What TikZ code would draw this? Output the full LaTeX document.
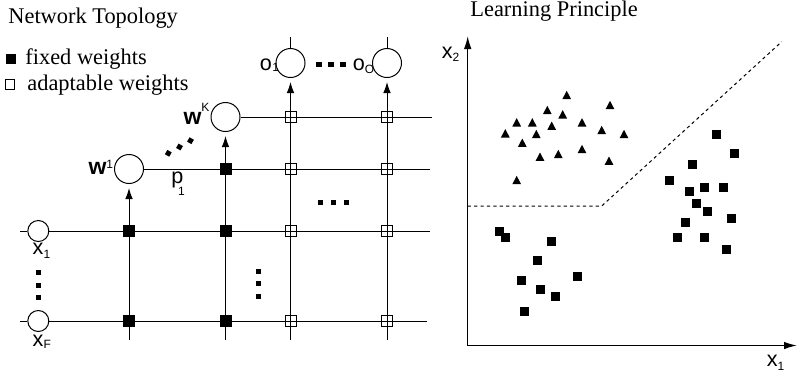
\documentclass[tikz,border=0pt]{standalone}
\usepackage{fontspec}
\setmainfont{Liberation Serif}
\setsansfont{Liberation Sans}
\usetikzlibrary{arrows.meta}
\newcommand\myscript[2]{\raisebox{#1}{\fontsize{6}{7}\mdseries\selectfont #2}}
\begin{document}
\begin{tikzpicture}[x=0.5pt,y=-0.5pt,
  wire/.style={line width=0.5pt},
  arr/.style={wire,-{Latex[length=5.5pt,width=3.8pt]},shorten >=2pt},
  axis/.style={line width=0.75pt,-{Latex[length=6.5pt,width=3.8pt]}},
  sep/.style={line width=0.5pt,dash pattern=on 1.6pt off 1.6pt},
  neuron/.style={circle,draw,line width=0.5pt,minimum size=14.5pt,inner sep=0pt},
  innode/.style={circle,draw,line width=0.5pt,minimum size=10.5pt,inner sep=0pt},
  fixw/.style={rectangle,fill=black,minimum size=6pt,inner sep=0pt},
  adaw/.style={rectangle,draw,line width=0.5pt,minimum size=5.5pt,inner sep=0pt},
  lbl/.style={font=\sffamily\fontsize{10.8}{12}\selectfont,inner sep=0pt},
  wlbl/.style={font=\sffamily\bfseries\fontsize{11.5}{13}\selectfont,inner sep=0pt},
  ttl/.style={font=\fontsize{11.2}{13}\selectfont,inner sep=0pt},
  dotm/.style={rectangle,fill=black,minimum size=2.5pt,inner sep=0pt},
]
\useasboundingbox (0,0) rectangle (797,371);

% titles and legend
\node[ttl,anchor=base west] (tnet) at (8,23) {Network Topology};
\node[ttl,anchor=base west] (tlearn) at (470,16) {Learning Principle};
\node[rectangle,fill=black,minimum size=5pt,inner sep=0pt] (legF) at (11,59) {};
\node[ttl,anchor=base west] (legFt) at (25,64.5) {fixed weights};
\node[rectangle,draw,line width=0.4pt,minimum size=4.8pt,inner sep=0pt] (legA) at (10,84.5) {};
\node[ttl,anchor=base west] (legAt) at (27,90.5) {adaptable weights};

% neurons
\node[innode] (x1) at (38.3,231) {};
\node[innode] (xF) at (38.3,321) {};
\node[neuron] (w1) at (129,169) {};
\node[neuron] (wK) at (225.5,117) {};
\node[neuron] (o1) at (290.5,63) {};
\node[neuron] (oO) at (387,63) {};

% stubs
\coordinate (sx1) at (20,231);
\coordinate (sxF) at (20,321);
\coordinate (t1) at (290.5,37);
\coordinate (t4) at (387,37);
\draw[wire] (sx1) -- (x1);
\draw[wire] (sxF) -- (xF);
\draw[wire] (t1) -- (o1);
\draw[wire] (t4) -- (oO);

% rows
\coordinate (eA) at (432,117);
\coordinate (eB) at (430,169);
\coordinate (eC) at (430,231);
\coordinate (eD) at (427,321);
\draw[wire] (wK) -- (eA);
\draw[wire] (w1) -- (eB);
\draw[wire] (x1) -- (eC);
\draw[wire] (xF) -- (eD);

% columns
\coordinate (b1) at (129,340);
\coordinate (b2) at (225.5,340);
\coordinate (b3) at (290.5,340);
\coordinate (b4) at (387,340);
\draw[arr] (b1) -- (w1);
\draw[arr] (b2) -- (wK);
\draw[arr] (b3) -- (o1);
\draw[arr] (b4) -- (oO);

% weights
\foreach \n/\x/\y in {f1/129/231, f2/129/321, f3/225.5/169, f4/225.5/231, f5/225.5/321}
  \node[fixw] (\n) at (\x,\y) {};
\foreach \y [count=\i] in {117,169,231,321}{
  \node[adaw] (a3\i) at (290.5,\y) {};
  \node[adaw] (a4\i) at (387,\y) {};
}

% dots
\foreach \x/\y [count=\i] in {168.3/153.3, 179.5/147, 190.5/140.7}
  \node[dotm,rotate=-30] (dd\i) at (\x,\y) {};
\foreach \x [count=\i] in {318.5,330.5,342.5}
  \node[dotm,minimum width=3pt,minimum height=2.5pt] (do\i) at (\x,64) {};
\foreach \x [count=\i] in {320,333,346}
  \node[dotm] (dh\i) at (\x,202) {};
\foreach \y [count=\i] in {271,283.5,296}
  \node[dotm] (dv\i) at (258,\y) {};
\foreach \y [count=\i] in {272,285,297.5}
  \node[dotm] (di\i) at (38.8,\y) {};

% labels
\node[wlbl,anchor=base east] (lw1) at (113.5,174) {w\myscript{2.8pt}{1}};
\node[wlbl,anchor=base east] (lwK) at (209.8,124.8) {w\myscript{6.5pt}{K}};
\node[lbl,anchor=base west] (lp1) at (171,183) {p\kern-2.7pt\myscript{-6pt}{1}};
\node[lbl,anchor=base west] (lo1) at (259.5,70.7) {o\kern0.2pt\myscript{-0.2pt}{1}};
\node[lbl,anchor=base west] (loO) at (352.5,70.7) {o\myscript{-1.3pt}{O}};
\node[lbl,anchor=base west] (lx1) at (32.3,254) {x\myscript{-2pt}{1}};
\node[lbl,anchor=base west] (lxF) at (32.3,346) {x\myscript{-1pt}{F}};

% right panel
\coordinate (org) at (467.7,345.5);
\coordinate (ytip) at (467.7,36);
\coordinate (xtip) at (797,345.5);
\draw[axis] (org) -- (ytip);
\draw[axis] (org) -- (xtip);
\node[lbl,anchor=base west] (lax2) at (441.5,58.3) {x\myscript{-1.8pt}{2}};
\node[lbl,anchor=base west] (lax1) at (766.5,366.7) {x\myscript{-2pt}{1}};

\coordinate (dA) at (467.7,206);
\coordinate (dB) at (601.7,206);
\coordinate (dC) at (781.7,41.7);
\draw[sep] (dA) -- (dB) -- (dC);

% class 1: triangles
\foreach \x/\y in {566.7/95, 610/105, 547.3/110, 562.7/114.3, 516.7/122.3, 532.3/122.3,
  551.7/125.7, 582/122.3, 601.7/130, 624/134, 505.3/133.3, 536.3/134, 522.3/142.7,
  540/156.7, 558.3/154, 582/149, 609/160.7, 516.7/180}
  \fill (\x-4.4,\y+4.2) -- (\x+4.4,\y+4.2) -- (\x,\y-4.2) -- cycle;

% class 2: squares
\foreach \x/\y in {716/134, 734.3/153.3, 692.7/164.7, 669.3/180, 689.3/191.7, 704/187.7,
  723.3/187.7, 696.7/203.3, 707.7/211, 731/218.3, 685.3/222.3, 677.3/237.7, 704.3/237.7,
  726.7/249.3,
  499.3/231.7, 505.3/237.3, 551.7/241.7, 537/260.3, 521/280, 577.7/276.7, 540/289,
  555.3/296.7, 524.3/311}
  \fill (\x-4.5,\y-4.5) rectangle (\x+4.5,\y+4.5);
\end{tikzpicture}
\end{document}
